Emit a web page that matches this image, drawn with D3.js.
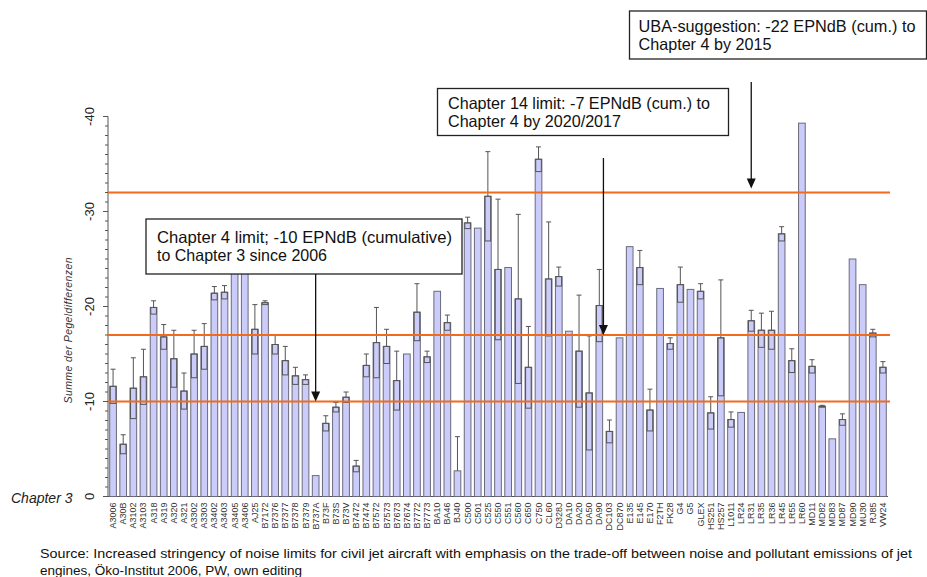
<!DOCTYPE html>
<html><head><meta charset="utf-8">
<script src="https://cdn.jsdelivr.net/npm/d3@7"></script>
<style>body{margin:0;background:#fff}svg{display:block}</style>
</head><body>
<script>
const categories = ["A3006","A30B","A3102","A3103","A318","A319","A320","A321","A3302","A3303","A3402","A3403","A3405","A3406","AJ25","B7172","B7376","B7377","B7378","B7379","B737A","B73F","B73S","B73V","B7472","B7474","B7572","B7573","B7673","B7674","B7772","B7773","BA10","BA46","BJ40","C500","C501","C525","C550","C551","C560","C650","C750","CL60","D328J","DA10","DA20","DA50","DA90","DC103","DC870","E135","E145","E170","F2TH","FK28","G4","G5","GLEX","HS251","HS257","L1011","LR24","LR31","LR35","LR36","LR45","LR55","LR60","MD11","MD82","MD83","MD87","MD90","MU30","RJ85","VW24"];
const values = [11.6,5.5,11.4,12.6,19.9,16.8,14.5,11.1,15.0,15.8,21.4,21.5,26.0,26.5,17.6,20.4,16.0,14.3,12.7,12.3,2.2,7.7,9.4,10.45,3.2,13.8,16.2,15.8,12.2,15.0,19.4,14.7,21.6,18.3,2.7,28.8,28.25,31.6,23.9,24.1,20.8,13.6,35.5,22.9,23.15,17.4,15.3,10.9,20.1,6.85,16.7,26.3,24.1,9.1,21.9,16.1,22.3,21.8,21.6,8.8,16.7,8.1,8.85,18.5,17.5,17.5,27.65,14.3,39.3,13.7,9.5,6.07,8.1,25.0,22.3,17.2,13.6];
const errors = [1.8,1.0,3.2,2.9,0.7,1.3,3.0,1.9,2.5,2.4,0.7,0.7,0,0,2.6,0.2,1.0,1.5,0.9,0.5,0,0.8,0.5,0.55,0.6,1.2,3.7,1.8,3.1,0,3.0,0.6,0,0.8,3.6,0.6,0,4.7,7.4,0,8.9,4.3,1.3,6.0,1.0,0,5.9,6.0,3.8,1.2,0,0,1.8,2.2,0,0.6,1.85,0,0.8,1.7,6.1,0.8,0,1.1,1.8,2.0,0.75,1.25,0,0.7,0.1,0,0.6,0,0,0.4,0.6];
const yTicks = [0,10,20,30,40];
const yTickLabels = ["0","-10","-20","-30","-40"];
const limits = [10,17,32];
const yAxisTitle = "Summe der Pegeldifferenzen";
const baseLabel = "Chapter 3";
const notes = [
  {lines:["Chapter 4 limit; -10 EPNdB (cumulative)","to Chapter 3 since 2006"]},
  {lines:["Chapter 14 limit: -7 EPNdB (cum.) to","Chapter 4 by 2020/2017"]},
  {lines:["UBA-suggestion: -22 EPNdB (cum.) to","Chapter 4 by 2015"]}
];
const sourceLines = ["Source: Increased stringency of noise limits for civil jet aircraft with emphasis on the trade-off between noise and pollutant emissions of jet","engines, Öko-Institut 2006, PW, own editing"];

const W = 927, H = 577;
const svg = d3.select("body").append("svg").attr("width",W).attr("height",H);
const font = "'Liberation Sans', Arial, sans-serif";

const x = d3.scaleBand().domain(categories).range([108, 888]).paddingInner(0.34).paddingOuter(0.17);
const y = d3.scaleLinear().domain([0,40]).range([496.5,116.5]);

// y axis
const ya = svg.append("g");
ya.append("line").attr("x1",108).attr("x2",108).attr("y1",y(40)).attr("y2",y(0)).attr("stroke","#555");
d3.range(0,41).forEach(v=>{
  ya.append("line").attr("x1",v%10===0?103:105).attr("x2",108).attr("y1",y(v)).attr("y2",y(v)).attr("stroke","#555");
});
yTicks.forEach((v,i)=>{
  ya.append("text").attr("transform",`translate(94,${y(v)}) rotate(-90)`)
    .attr("text-anchor","middle").attr("font-family",font).attr("font-size",13).attr("fill","#222").text(yTickLabels[i]);
});
svg.append("text").attr("transform",`translate(72,${y(17.5)}) rotate(-90)`)
  .attr("text-anchor","middle").attr("font-family",font).attr("font-style","italic").attr("font-size",10.5)
  .attr("letter-spacing",0.4).attr("fill","#333").text(yAxisTitle);
svg.append("text").attr("x",11).attr("y",y(0)+6).attr("font-family",font).attr("font-style","italic")
  .attr("font-size",14).attr("fill","#222").text(baseLabel);

// x axis
const xa = svg.append("g");
xa.append("line").attr("x1",108).attr("x2",888).attr("y1",y(0)).attr("y2",y(0)).attr("stroke","#555");
categories.forEach(c=>{
  const cx = x(c)+x.bandwidth()/2;
  xa.append("text").attr("transform",`translate(${cx+3},${y(0)+6}) rotate(-90)`)
    .attr("text-anchor","end").attr("font-family",font).attr("font-size",9).attr("fill","#333").text(c);
});

// bars
const bars = svg.append("g");
categories.forEach((c,i)=>{
  const v = values[i], e = errors[i];
  const bx = x(c), bw = x.bandwidth(), cx = bx+bw/2;
  bars.append("rect").attr("x",bx).attr("y",y(v)).attr("width",bw).attr("height",y(0)-y(v))
    .attr("fill","#ccccfa").attr("stroke","#6a6a7a").attr("stroke-width",1);
  if(e>0){
    const g = bars.append("g").attr("stroke","#555").attr("stroke-width",1).attr("fill","none");
    g.append("line").attr("x1",cx).attr("x2",cx).attr("y1",y(v)).attr("y2",y(v+e));
    g.append("line").attr("x1",cx-2.5).attr("x2",cx+2.5).attr("y1",y(v+e)).attr("y2",y(v+e));
    if(v-e>0){
      g.append("rect").attr("x",cx-2.8).attr("width",5.6).attr("y",y(v)).attr("height",y(v-e)-y(v));
    }
  }
});

// limit lines
limits.forEach(l=>{
  svg.append("line").attr("x1",108).attr("x2",890).attr("y1",y(l)).attr("y2",y(l))
    .attr("stroke","#f26a1b").attr("stroke-width",1.8);
});

// annotation boxes
const boxes = [
  {x:146,y:219,w:316,h:55,tx:157,ty:[242.5,261],tl:[295,170]},
  {x:437.5,y:88.5,w:291,h:47,tx:448,ty:[108.5,127],tl:[262,173]},
  {x:629.5,y:11,w:297,h:48,tx:638.5,ty:[31.5,50],tl:[277,133]}
];
boxes.forEach((b,i)=>{
  svg.append("rect").attr("x",b.x).attr("y",b.y).attr("width",b.w).attr("height",b.h)
    .attr("fill","#fff").attr("stroke","#222").attr("stroke-width",1.3);
  notes[i].lines.forEach((t,j)=>{
    svg.append("text").attr("x",b.tx).attr("y",b.ty[j]).attr("font-family",font).attr("font-size",16.5)
      .attr("textLength",b.tl[j]).attr("lengthAdjust","spacingAndGlyphs")
      .attr("fill","#111").text(t);
  });
});

// arrows
function arrow(ax, y1, y2){
  svg.append("line").attr("x1",ax).attr("x2",ax).attr("y1",y1).attr("y2",y2-8).attr("stroke","#111").attr("stroke-width",1.3);
  svg.append("path").attr("d",`M${ax-4.5},${y2-10}L${ax+4.5},${y2-10}L${ax},${y2}Z`).attr("fill","#111");
}
arrow(x("B737A")+x.bandwidth()/2, 274, y(limits[0]));
arrow(x("DC103")+x.bandwidth()/2-6, 158, y(limits[1]));
arrow(x("LR31")+x.bandwidth()/2, 82, y(limits[2])-4);

// source
sourceLines.forEach((t,j)=>{
  const el = svg.append("text").attr("x",40).attr("y",558+j*17).attr("font-family",font).attr("font-size",13)
    .attr("fill","#111").text(t);
  if(j===0) el.attr("textLength",872).attr("lengthAdjust","spacingAndGlyphs");
  else el.attr("textLength",262).attr("lengthAdjust","spacingAndGlyphs");
});
</script>
</body></html>
